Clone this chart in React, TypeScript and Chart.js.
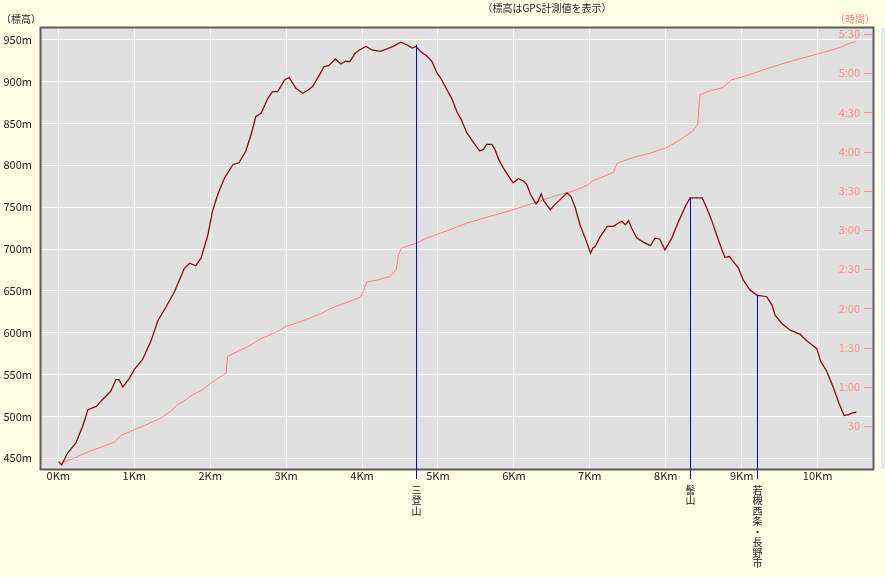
import React, { useEffect, useRef } from "react";
import { Chart, registerables } from "chart.js";

Chart.register(...registerables);

// ---- Data ----
const elevKm = [0.0, 0.045, 0.12, 0.23, 0.32, 0.39, 0.5, 0.56, 0.69, 0.76, 0.8, 0.85, 0.94, 1.0, 1.11, 1.22, 1.31, 1.42, 1.53, 1.66, 1.73, 1.81, 1.88, 1.97, 2.03, 2.1, 2.19, 2.3, 2.38, 2.47, 2.54, 2.6, 2.67, 2.76, 2.82, 2.89, 2.98, 3.04, 3.13, 3.22, 3.29, 3.35, 3.44, 3.5, 3.56, 3.65, 3.72, 3.78, 3.84, 3.91, 3.97, 4.05, 4.13, 4.24, 4.33, 4.41, 4.51, 4.59, 4.66, 4.71, 4.77, 4.85, 4.92, 4.99, 5.05, 5.12, 5.18, 5.25, 5.31, 5.38, 5.47, 5.55, 5.6, 5.64, 5.71, 5.75, 5.8, 5.86, 5.93, 5.99, 6.06, 6.13, 6.17, 6.22, 6.29, 6.32, 6.36, 6.39, 6.48, 6.54, 6.61, 6.7, 6.75, 6.81, 6.87, 6.94, 7.01, 7.04, 7.07, 7.14, 7.23, 7.31, 7.38, 7.42, 7.47, 7.51, 7.55, 7.62, 7.71, 7.8, 7.86, 7.92, 7.99, 8.08, 8.17, 8.26, 8.32, 8.48, 8.54, 8.61, 8.67, 8.74, 8.78, 8.84, 8.89, 8.96, 9.02, 9.11, 9.2, 9.33, 9.4, 9.44, 9.53, 9.64, 9.77, 9.86, 9.92, 9.99, 10.04, 10.12, 10.21, 10.28, 10.35, 10.41, 10.45, 10.51];
const elevM = [446, 442, 456, 468, 488, 508, 512, 518, 530, 544, 544, 535, 546, 556, 568, 590, 614, 631, 649, 677, 683, 680, 689, 717, 745, 765, 785, 801, 803, 817, 837, 858, 862, 880, 888, 888, 902, 905, 892, 886, 890, 894, 908, 918, 919, 927, 921, 924, 924, 934, 938, 942, 938, 936, 939, 942, 947, 944, 940, 942, 936, 931, 924, 910, 902, 890, 880, 864, 854, 839, 827, 817, 819, 825, 825, 819, 807, 797, 787, 779, 784, 781, 777, 765, 754, 757, 766, 758, 747, 753, 759, 767, 763, 749, 729, 713, 695, 701, 703, 715, 727, 727, 731, 733, 729, 734, 725, 713, 708, 704, 713, 712, 699, 713, 733, 751, 761, 761, 749, 733, 717, 699, 690, 691, 685, 677, 663, 651, 645, 643, 633, 621, 611, 603, 598, 590, 586, 581, 566, 554, 534, 516, 501, 502, 504, 505];

const timeKm = [0.02, 0.21, 0.39, 0.56, 0.74, 0.83, 1.0, 1.18, 1.35, 1.48, 1.57, 1.7, 1.77, 1.88, 2.01, 2.21, 2.23, 2.41, 2.54, 2.67, 2.85, 3.0, 3.2, 3.37, 3.45, 3.62, 3.84, 3.97, 4.02, 4.06, 4.22, 4.37, 4.45, 4.48, 4.52, 4.72, 4.85, 5.12, 5.38, 5.64, 5.99, 6.3, 6.52, 6.79, 6.98, 7.03, 7.31, 7.36, 7.58, 7.8, 8.02, 8.19, 8.35, 8.42, 8.45, 8.59, 8.76, 8.87, 9.07, 9.38, 9.64, 9.99, 10.3, 10.39, 10.51];
const timeMin = [1.0, 5.5, 10.1, 13.7, 17.8, 22.9, 27.2, 31.5, 36.1, 41.2, 46.3, 50.9, 54.0, 57.0, 62.9, 70.6, 83.3, 88.4, 92.2, 96.8, 101.2, 106.3, 110.1, 113.9, 115.7, 120.8, 125.4, 128.5, 133.1, 140.2, 142.0, 144.5, 149.6, 161.1, 166.2, 170.0, 173.8, 179.4, 185.3, 189.7, 195.5, 201.4, 205.7, 210.0, 214.6, 217.2, 224.1, 231.2, 235.6, 238.9, 243.2, 249.1, 255.5, 260.5, 283.5, 286.6, 289.2, 295.0, 298.3, 304.4, 309.0, 314.6, 319.7, 322.3, 324.3];

const kmTicks = [0, 1, 2, 3, 4, 5, 6, 7, 8, 9, 10];
const elevTicks = [450, 500, 550, 600, 650, 700, 750, 800, 850, 900, 950];
const timeTickValues = [30, 60, 90, 120, 150, 180, 210, 240, 270, 300, 330];
const timeTickLabels = ["30", "1:00", "1:30", "2:00", "2:30", "3:00", "3:30", "4:00", "4:30", "5:00", "5:30"];

const markerKm = [4.71, 8.32, 9.2];
const markerElev = [944, 761, 645];
const markerLabels = ["三登山", "髻山", "若槻西条・長野市"];

const titleText = "（標高はGPS計測値を表示）";
const leftTitle = "（標高）";
const rightTitle = "（時間）";

const FONT = '"Noto Sans CJK JP", "Noto Sans", sans-serif';
const W = 885;
const H = 577;

export default function App() {
  const ref = useRef<HTMLCanvasElement | null>(null);

  useEffect(() => {
    if (!ref.current) return;
    Chart.defaults.font.family = FONT;

    const decor = {
      id: "decor",
      beforeDraw(chart: any) {
        const { ctx, chartArea: a } = chart;
        ctx.save();
        ctx.fillStyle = "#FFFFE6";
        ctx.fillRect(0, 0, chart.width, chart.height);
        ctx.fillStyle = "#E0E0E0";
        ctx.fillRect(a.left, a.top, a.right - a.left, a.bottom - a.top);
        ctx.fillStyle = "#E6E8EE";
        ctx.fillRect(881, a.top, chart.width - 881, a.bottom - a.top);
        ctx.restore();
      },
      afterDatasetsDraw(chart: any) {
        const { ctx, chartArea: a, scales } = chart;
        const xs = scales.x;
        const ys = scales.y;
        const y2 = scales.y2;
        ctx.save();
        // frame
        ctx.strokeStyle = "#5c5c5c";
        ctx.lineWidth = 2;
        ctx.strokeRect(a.left - 0.5, a.top - 0.5, a.right - a.left + 1, a.bottom - a.top + 1);
        // right tick dashes
        ctx.strokeStyle = "#FF8C8C";
        ctx.lineWidth = 1;
        timeTickValues.forEach((v) => {
          const y = Math.round(y2.getPixelForValue(v)) + 0.5;
          ctx.beginPath();
          ctx.moveTo(a.right - 9, y);
          ctx.lineTo(a.right - 1, y);
          ctx.stroke();
        });
        // markers
        markerKm.forEach((km, i) => {
          const x = Math.round(xs.getPixelForValue(km)) + 0.5;
          const yt = ys.getPixelForValue(markerElev[i]);
          ctx.strokeStyle = "#0000FF";
          ctx.lineWidth = 1;
          ctx.beginPath();
          ctx.moveTo(x, yt);
          ctx.lineTo(x, a.bottom + 10);
          ctx.stroke();
          ctx.fillStyle = "#222";
          ctx.font = "10px " + FONT;
          ctx.textAlign = "center";
          ctx.textBaseline = "top";
          Array.from(markerLabels[i]).forEach((ch, j) => {
            ctx.fillText(ch, x, a.bottom + 16 + j * 10.5);
          });
        });
        // titles
        ctx.font = "10px " + FONT;
        ctx.textAlign = "center";
        ctx.textBaseline = "middle";
        ctx.fillStyle = "#222";
        ctx.fillText(titleText, 547, 8);
        ctx.fillText(leftTitle, 21, 19);
        ctx.fillStyle = "#FF8080";
        ctx.fillText(rightTitle, 855, 19);
        ctx.restore();
      },
    };

    const chart = new Chart(ref.current, {
      type: "line",
      data: {
        datasets: [
          {
            label: "標高",
            data: elevKm.map((k, i) => ({ x: k, y: elevM[i] })),
            yAxisID: "y",
            borderColor: "#7A1414",
            borderWidth: 1.3,
            pointRadius: 0,
            tension: 0,
          },
          {
            label: "時間",
            data: timeKm.map((k, i) => ({ x: k, y: timeMin[i] })),
            yAxisID: "y2",
            borderColor: "#FF8080",
            borderWidth: 1,
            pointRadius: 0,
            tension: 0,
          },
        ],
      },
      options: {
        responsive: false,
        animation: false,
        devicePixelRatio: 1,
        layout: { padding: { top: 28, left: 0, right: 0, bottom: 0 } },
        plugins: { legend: { display: false }, tooltip: { enabled: false }, title: { display: false } },
        scales: {
          x: {
            type: "linear",
            min: -0.228,
            max: 10.73,
            afterBuildTicks: (s: any) => {
              s.ticks = kmTicks.map((v) => ({ value: v }));
            },
            afterFit: (s: any) => {
              s.height = H - 469;
            },
            grid: { color: "#FFFFFF", lineWidth: 1, drawTicks: false },
            border: { display: false },
            ticks: {
              padding: 0,
              color: "#222",
              font: { size: 11 },
              maxRotation: 0,
              autoSkip: false,
              callback: (v: any) => v + "Km",
            },
          },
          y: {
            type: "linear",
            position: "left",
            min: 437.2,
            max: 964,
            afterBuildTicks: (s: any) => {
              s.ticks = elevTicks.map((v) => ({ value: v }));
            },
            afterFit: (s: any) => {
              s.width = 41;
            },
            grid: { color: "#FFFFFF", lineWidth: 1, drawTicks: false },
            border: { display: false },
            ticks: {
              padding: 9,
              color: "#222",
              font: { size: 11 },
              autoSkip: false,
              callback: (v: any) => v + "m",
            },
          },
          y2: {
            type: "linear",
            position: "right",
            min: -2.9,
            max: 334.6,
            afterBuildTicks: (s: any) => {
              s.ticks = timeTickValues.map((v) => ({ value: v }));
            },
            afterFit: (s: any) => {
              s.width = W - 873;
            },
            grid: { display: false, drawTicks: false },
            border: { display: false },
            ticks: {
              mirror: true,
              crossAlign: "near",
              padding: -13,
              color: "#FF8C8C",
              font: { size: 11 },
              autoSkip: false,
              callback: (v: any) => {
                const i = timeTickValues.indexOf(v);
                return i >= 0 ? timeTickLabels[i] : "";
              },
            },
          },
        },
      },
      plugins: [decor],
    } as any);

    return () => chart.destroy();
  }, []);

  return (
    <div style={{ position: "fixed", left: 0, top: 0, width: W, height: H, background: "#FFFFE6" }}>
      <canvas ref={ref} width={W} height={H} style={{ display: "block", width: W, height: H }} />
    </div>
  );
}
